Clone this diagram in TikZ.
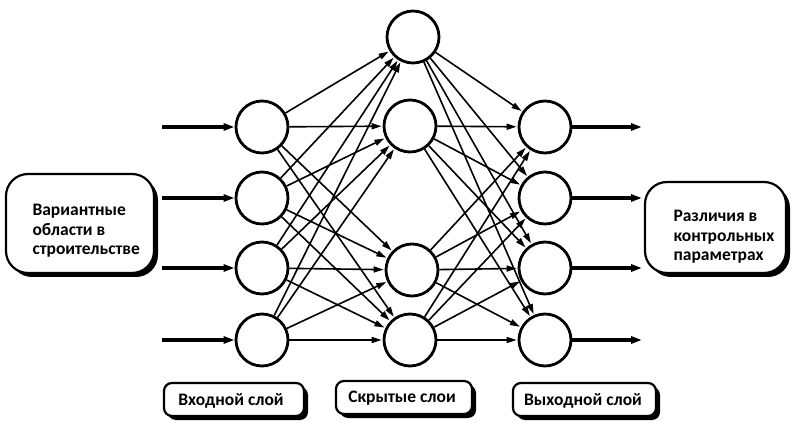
\documentclass[tikz,border=0pt]{standalone}
\usepackage{fontspec}
\setmainfont{Carlito}
\usetikzlibrary{arrows.meta,calc}
\begin{document}
\begin{tikzpicture}[x=1pt,y=-1pt,
  neuron/.style={circle,draw,line width=2.8pt,minimum size=52pt,inner sep=0pt,fill=white},
  link/.style={line width=1.6pt,-{Triangle[length=10pt,width=6pt]},shorten >=1pt},
  iolink/.style={line width=3.2pt,-{Triangle[length=11pt,width=7pt]}},
  txt/.style={font=\bfseries\fontsize{17.5}{19.5}\selectfont,align=left}
]
\useasboundingbox (0,0) rectangle (793,422);
% big boxes with shadows
\newcommand{\shbox}[5]{%
  \fill[black,rounded corners=#5] ($(#1,#2)+(4,4)$) rectangle ($(#3,#4)+(4,4)$);
  \draw[line width=2.2pt,fill=white,rounded corners=#5] (#1,#2) rectangle (#3,#4);}
\shbox{6}{174}{154}{273}{22}
\shbox{645}{182}{786}{273}{22}
\shbox{164}{383}{304}{416}{8}
\shbox{336}{381}{472}{414}{8}
\shbox{513}{383}{656}{416}{8}
\node[txt,anchor=west] (lt) at (29,231) {Вариантные\\области в\\строительстве};
\node[txt,anchor=west] (rt) at (670,237) {Различия в\\контрольных\\параметрах};
\node[txt] (l1) at (231,401) {Входной слой};
\node[txt] (l2) at (402,398) {Скрытые слои};
\node[txt] (l3) at (583,401) {Выходной слой};
% neurons
\foreach \i/\y in {1/127,2/198,3/268,4/340}{
  \node[neuron] (i\i) at (262,\y) {};
  \node[neuron] (o\i) at (545,\y) {};
}
\node[neuron] (h1) at (413,37) {};
\node[neuron] (h2) at (410,126) {};
\node[neuron] (h3) at (412,270) {};
\node[neuron] (h4) at (410,340) {};
% io arrows
\foreach \i/\y in {1/127,2/198,3/268,4/340}{
  \coordinate (s\i) at (162,\y);
  \coordinate (e\i) at (642,\y);
  \draw[iolink] (s\i) -- (i\i);
  \draw[iolink] (o\i) -- (e\i);
}
% connections
\foreach \a in {1,2,3,4}{
  \foreach \b in {1,2,3,4}{
    \draw[link] (i\a) -- (h\b);
    \draw[link] (h\a) -- (o\b);
  }
}
\end{tikzpicture}
\end{document}
